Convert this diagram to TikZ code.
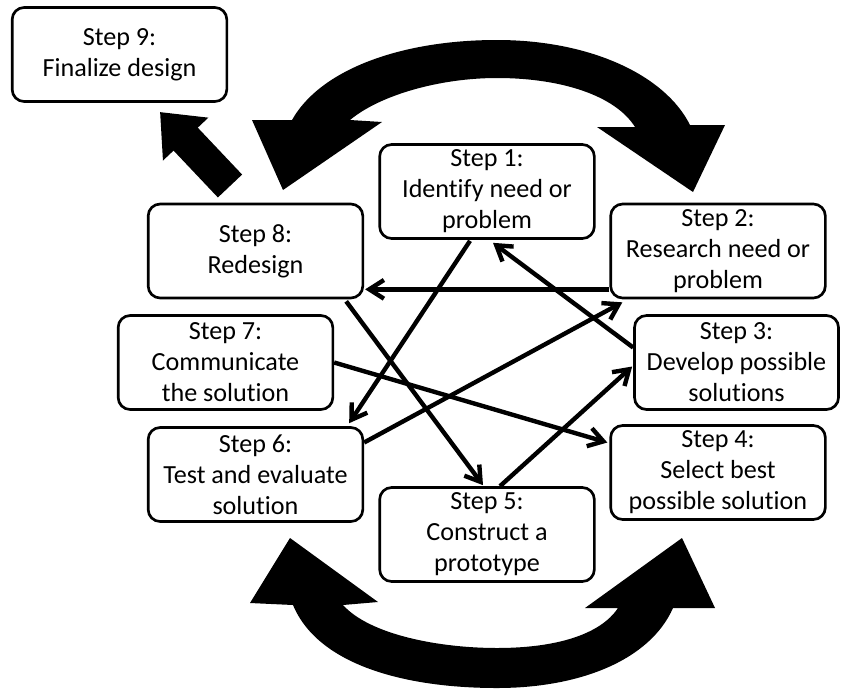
\documentclass[tikz,border=0pt]{standalone}
\usepackage{fontspec}
\setmainfont{Carlito}[Ligatures=NoCommon]
\usetikzlibrary{arrows.meta,calc}

\tikzset{
  every picture/.style={line width=0.75pt},
  stepbox/.style={draw, line width=2pt, rounded corners=9pt, align=center,
    minimum width=161pt, minimum height=70.5pt, inner sep=0pt,
    font=\fontsize{19.6}{23.2}\selectfont},
  link/.style={line width=3.3pt, -{Straight Barb[length=11pt,width=14pt]}},
  bigfill/.style={fill=black}
}

\begin{document}
\begin{tikzpicture}[x=0.75pt,y=0.75pt,yscale=-1,xscale=1]
\useasboundingbox (0,0) rectangle (841,689);

%Step boxes
\node[stepbox] (s9) at (119.5,54.5) {Step 9:\\Finalize design};
\node[stepbox] (s1) at (487,191.5) {Step 1:\\Identify need or\\problem};
\node[stepbox] (s8) at (255.5,251) {Step 8:\\Redesign};
\node[stepbox] (s2) at (718,251) {Step 2:\\Research need or\\problem};
\node[stepbox] (s7) at (225.5,362.5) {Step 7:\\Communicate\\the solution};
\node[stepbox, minimum width=153pt] (s3) at (736.5,362.5) {Step 3:\\Develop possible\\solutions};
\node[stepbox] (s6) at (255.5,474.5) {Step 6:\\Test and evaluate\\solution};
\node[stepbox] (s4) at (718,472.5) {Step 4:\\Select best\\possible solution};
\node[stepbox] (s5) at (487,534.5) {Step 5:\\Construct a\\prototype};

%Links between steps
\draw[link] ($(s2.south west)+(0,-10)$) -- ($(s8.south east)+(1,-10)$);
\draw[link] ($(s3.west)+(0,-15)$) -- ($(s1.south)+(6,3)$);
\draw[link] ($(s1.south)+(-17,1)$) -- ($(s6.north east)+(-15,-3)$);
\draw[link] ($(s8.south east)+(-18,2)$) -- ($(s5.north)+(-4,-1)$);
\draw[link] ($(s7.east)+(0,0)$) -- ($(s4.west)+(-2,-30)$);
\draw[link] ($(s6.east)+(0,-32)$) -- ($(s2.south west)+(13,3)$);
\draw[link] ($(s5.north)+(13,0)$) -- ($(s3.west)+(-1,4)$);

%Arrow from Step 8 to Step 9
\coordinate (c8) at (230,186);
\coordinate (c9) at (160,112);
\draw[line width=25pt, -{Triangle[length=28pt,width=45pt]}] (c8) -- (c9);

%Top double arc
\fill[bigfill] (252,120) -- (283,190) -- (382,122) -- (350,120)
  .. controls (380,95) and (440,78) .. (497,78)
  .. controls (560,78) and (615,95) .. (635,127)
  -- (597,127) -- (693,192) -- (725,125) -- (690,125)
  .. controls (665,75) and (590,40) .. (497,40)
  .. controls (400,40) and (320,70) .. (292,120) -- cycle;

%Bottom double arc
\fill[bigfill] (250,603) -- (290,538) -- (378,602) -- (343,605)
  .. controls (370,635) and (440,648) .. (497,648)
  .. controls (555,648) and (600,635) .. (618,608)
  -- (585,608) -- (682,538) -- (715,608) -- (673,608)
  .. controls (650,660) and (580,688) .. (497,688)
  .. controls (405,688) and (318,665) .. (293,605) -- cycle;

\end{tikzpicture}
\end{document}
